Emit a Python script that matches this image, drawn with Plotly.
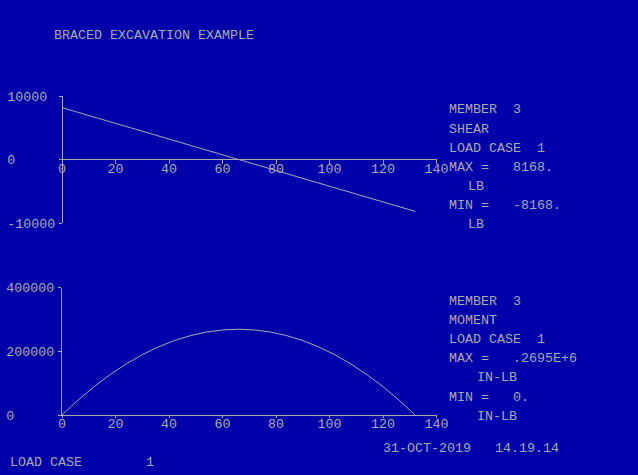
import plotly.graph_objects as go

# ---------------- data ----------------
title_text = "BRACED EXCAVATION EXAMPLE"

shear_x = [0, 12, 24, 36, 48, 60, 72, 84, 96, 108, 120, 132]
shear_v = [8168, 6683, 5198, 3713, 2228, 743, -743, -2228, -3713, -5198, -6683, -8168]

moment_x = [0, 6, 12, 18, 24, 30, 36, 42, 48, 54, 60, 66,
            72, 78, 84, 90, 96, 102, 108, 114, 120, 126, 132]
moment_v = [0, 46775, 89093, 126957, 160367, 189322, 213823, 233868, 249459, 260596, 267277, 269500,
            267277, 260596, 249459, 233868, 213823, 189322, 160367, 126957, 89093, 46775, 0]

x_ticks = [0, 20, 40, 60, 80, 100, 120, 140]
shear_ticks = [10000, 0, -10000]
shear_ticklabels = ["10000 ", "0     ", "-10000"]
moment_ticks = [400000, 200000, 0]
moment_ticklabels = ["400000", "200000", "0     "]

shear_info = ["MEMBER  3", "SHEAR", "LOAD CASE  1", "MAX =   8168.", "LB", "MIN =   -8168.", "LB"]
moment_info = ["MEMBER  3", "MOMENT", "LOAD CASE  1", "MAX =   .2695E+6", "IN-LB", "MIN =   0.", "IN-LB"]
date_text = "31-OCT-2019   14.19.14"
footer_text = "LOAD CASE        1"

# ---------------- style ----------------
W, H = 638, 475
BG = "#0000AA"
FG = "#AAAAAA"
FONT = dict(family="Liberation Mono, Courier New, monospace", size=13.33, color=FG)


def nb(s):
    return s.replace(" ", "\u00a0")


def px(x):
    return x / W


def py(y):
    return 1 - y / H


xdom = [px(62), px(436.5)]
top_dom = [py(223), py(96)]
bot_dom = [py(415), py(287.7)]

fig = go.Figure()
fig.add_trace(go.Scatter(x=shear_x, y=shear_v, mode="lines", xaxis="x", yaxis="y",
                         line=dict(color=FG, width=1), hoverinfo="skip", showlegend=False))
fig.add_trace(go.Scatter(x=moment_x, y=moment_v, mode="lines", xaxis="x2", yaxis="y2",
                         line=dict(color=FG, width=1), hoverinfo="skip", showlegend=False))

common = dict(showgrid=False, zeroline=False, tickfont=FONT, tickcolor=FG, linecolor=FG,
              linewidth=1, tickwidth=1, fixedrange=True, automargin=False)

layout = dict(
    template="none",
    width=W, height=H, autosize=False, paper_bgcolor=BG, plot_bgcolor=BG,
    margin=dict(l=0, r=0, t=0, b=0, pad=0, autoexpand=False), showlegend=False, font=FONT,
    xaxis=dict(domain=xdom, range=[0, 140], anchor="free", position=py(159),
               tickmode="array", tickvals=x_ticks, ticks="outside", ticklen=4,
               ticklabelstandoff=-7, showline=True, **common),
    xaxis3=dict(domain=xdom, range=[0, 140], anchor="free", position=py(159), overlaying="x",
                tickmode="array", tickvals=x_ticks, ticks="inside", ticklen=3,
                showline=False, showticklabels=False, **common),
    yaxis=dict(domain=top_dom, range=[-10000, 10000], anchor="free", position=px(62),
               tickmode="array", tickvals=shear_ticks, ticktext=[nb(t) for t in shear_ticklabels],
               ticks="outside", ticklen=3, ticklabelstandoff=1, showline=True, **common),
    yaxis3=dict(domain=top_dom, range=[-10000, 10000], anchor="free", position=px(62), overlaying="y",
                tickmode="array", tickvals=shear_ticks, ticks="inside", ticklen=4,
                showline=False, showticklabels=False, **common),
    xaxis2=dict(domain=xdom, range=[0, 140], anchor="y2",
                tickmode="array", tickvals=x_ticks, ticks="outside", ticklen=2,
                ticklabelstandoff=-6, showline=True, **common),
    xaxis4=dict(domain=xdom, range=[0, 140], anchor="y2", overlaying="x2",
                tickmode="array", tickvals=x_ticks, ticks="inside", ticklen=3,
                showline=False, showticklabels=False, **common),
    yaxis2=dict(domain=bot_dom, range=[0, 400000], anchor="x2",
                tickmode="array", tickvals=moment_ticks, ticktext=[nb(t) for t in moment_ticklabels],
                ticks="outside", ticklen=3, ticklabelstandoff=1, showline=True, **common),
    yaxis4=dict(domain=bot_dom, range=[0, 400000], anchor="x2", overlaying="y2",
                tickmode="array", tickvals=moment_ticks, ticks="inside", ticklen=4,
                showline=False, showticklabels=False, **common),
)
fig.update_layout(**layout)

annotations = []


def add_text(text, x, y):
    annotations.append(dict(text=nb(text), x=px(x), y=py(y), xref="paper", yref="paper",
                            xanchor="left", yanchor="middle", showarrow=False, font=FONT,
                            borderpad=0, borderwidth=0))


add_text(title_text, 54, 35)

top_y = [109.7, 129.3, 148.3, 167.3, 186.3, 205.3, 224.3]
top_x = [448.5, 448.5, 448.5, 448.5, 467.5, 448.5, 467.5]
for t, xx, yy in zip(shear_info, top_x, top_y):
    add_text(t, xx, yy)

bot_y = [301.3, 320.3, 339.3, 358.3, 377.7, 397.0, 416.7]
bot_x = [448.5, 448.5, 448.5, 448.5, 476.5, 448.5, 476.5]
for t, xx, yy in zip(moment_info, bot_x, bot_y):
    add_text(t, xx, yy)

add_text(date_text, 382.5, 448.7)
add_text(footer_text, 10, 462.7)

fig.update_layout(annotations=annotations)
fig.write_html(
    "out.html",
    config={"displayModeBar": False, "responsive": False, "staticPlot": True},
    post_script="document.body.style.margin='0';document.body.style.padding='0';"
                "document.body.style.overflow='hidden';",
)
